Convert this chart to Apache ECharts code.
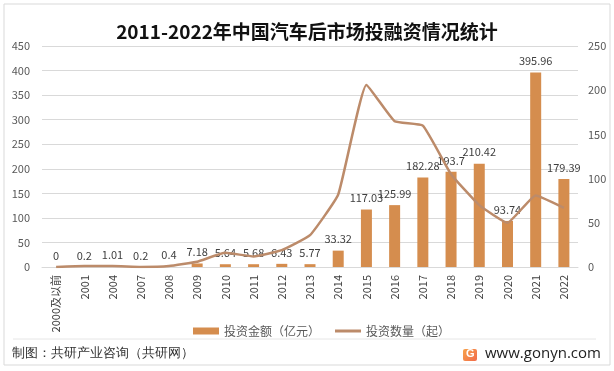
<!DOCTYPE html>
<html>
<head>
<meta charset="utf-8">
<script src="https://cdn.jsdelivr.net/npm/echarts@6/dist/echarts.min.js"></script>
<style>
html,body{margin:0;padding:0;background:#fff;}
#c{width:614px;height:371px;}
</style>
</head>
<body>
<div id="c"></div>
<script>
const categories = ['2000及以前','2001','2004','2007','2008','2009','2010','2011','2012','2013','2014','2015','2016','2017','2018','2019','2020','2021','2022'];
const amountValues = [0,0.2,1.01,0.2,0.4,7.18,5.64,5.68,6.43,5.77,33.32,117.03,125.99,182.28,193.7,210.42,93.74,395.96,179.39];
const countValues = [0,1,1,0,1,6,16,12,19,36,82,206,165,160,105,70,50,81,67];
const leftTicks = {min:0,max:450,interval:50};
const rightTicks = {min:0,max:250,interval:50};
</script>
<script>
const FONT = '"Noto Sans CJK SC","Microsoft YaHei",sans-serif';
const chart = echarts.init(document.getElementById('c'), null, {renderer:'canvas'});
chart.setOption({
  backgroundColor:'#ffffff',
  animation:false,
  textStyle:{fontFamily:FONT},
  title:{
    text:'2011-2022年中国汽车后市场投融资情况统计',
    left:'center', top:17,
    textStyle:{fontSize:19,fontWeight:'bold',color:'#111',fontFamily:FONT}
  },
  legend:{
    left:188, top:320,
    itemGap:15, itemWidth:26, itemHeight:7,
    textStyle:{fontSize:12,color:'#595959',fontFamily:FONT},
    data:[
      {name:'投资金额（亿元）',icon:'rect'},
      {name:'投资数量（起）',icon:'path://M0,0 L26,0 L26,3 L0,3 Z'}
    ]
  },
  grid:{left:42,right:36,top:46,bottom:104,containLabel:false},
  xAxis:{
    type:'category',
    data:categories,
    axisLine:{lineStyle:{color:'#d9d9d9'}},
    axisTick:{show:false},
    axisLabel:{rotate:90,fontSize:11,color:'#404040',margin:8,interval:0,fontFamily:FONT}
  },
  yAxis:[
    {type:'value',min:leftTicks.min,max:leftTicks.max,interval:leftTicks.interval,
     axisLine:{show:false},axisTick:{show:false},
     axisLabel:{fontSize:11,color:'#595959',margin:12,fontFamily:FONT},
     splitLine:{lineStyle:{color:'#d9d9d9'}}},
    {type:'value',min:rightTicks.min,max:rightTicks.max,interval:rightTicks.interval,
     axisLine:{show:false},axisTick:{show:false},
     axisLabel:{fontSize:11,color:'#595959',margin:10,fontFamily:FONT},
     splitLine:{show:false}}
  ],
  series:[
    {name:'投资金额（亿元）',type:'bar',data:amountValues,barWidth:11,yAxisIndex:0,
     itemStyle:{color:'#D58D4E'},
     label:{show:true,position:'top',distance:6,fontSize:11,color:'#404040',fontFamily:FONT}},
    {name:'投资数量（起）',type:'line',data:countValues,yAxisIndex:1,symbol:'none',smooth:0.12,
     lineStyle:{color:'#BC8B6A',width:2.5},itemStyle:{color:'#BC8B6A'},z:3}
  ],
  graphic:[
    {type:'rect',shape:{x:4,y:4,width:606,height:361},style:{fill:'none',stroke:'#d9d9d9',lineWidth:1},silent:true},
    {type:'line',shape:{x1:13,y1:339,x2:596,y2:339},style:{stroke:'#e6e6e6',lineWidth:1}},
    {type:'text',left:12,top:347,style:{text:'制图：共研产业咨询（共研网）',fontSize:12.5,fill:'#333',font:'12.5px '+FONT}},
    {type:'rect',shape:{x:463,y:349,width:14,height:12,r:2},
     style:{fill:new echarts.graphic.LinearGradient(0,0,1,1,[{offset:0,color:'#F7A24A'},{offset:1,color:'#F26B4B'}])}},
    {type:'text',x:466,y:348,style:{text:'G',fill:'#fff',font:'bold 11px sans-serif'}},
    {type:'text',x:485,y:346,style:{text:'www.gonyn.com',fill:'#222',font:'15px "Open Sans",sans-serif'}}
  ]
});
</script>
</body>
</html>
